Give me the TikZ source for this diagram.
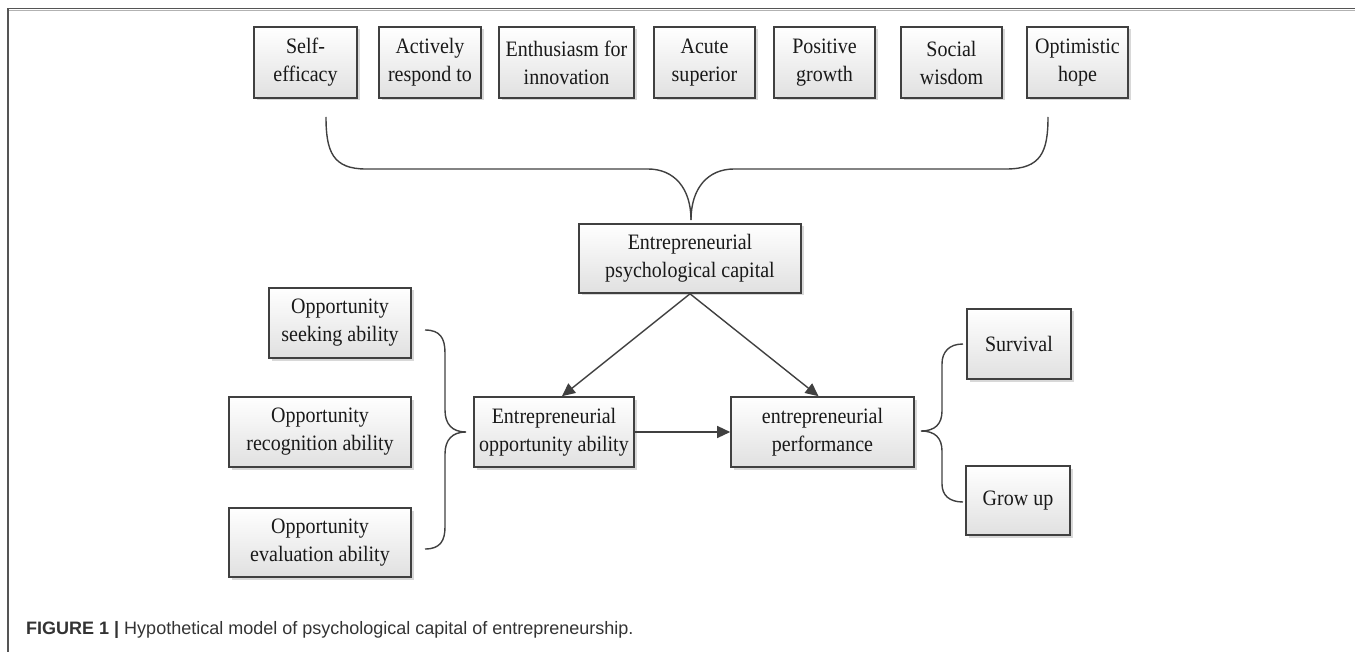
\documentclass[tikz,border=0pt]{standalone}
\usepackage{fontspec}
\setmainfont{Liberation Serif}[FakeStretch=0.91]
\newfontfamily\capfont{Liberation Sans}
\usetikzlibrary{arrows.meta,shadows,calc}
\definecolor{edge}{HTML}{404040}
\definecolor{framec}{HTML}{555555}
\tikzset{
  bx/.style={draw=edge, line width=1.6pt, top color=white, bottom color=black!12,
    drop shadow={shadow xshift=2.5pt, shadow yshift=-2.5pt, fill=black!30, opacity=0.5},
    inner sep=0pt, align=center, font=\fontsize{22}{28}\selectfont, text=black!90},
  conn/.style={draw=edge, line width=1.4pt},
  arr/.style={conn, -{Triangle[length=13pt,width=12pt]}},
}
\begin{document}
\begin{tikzpicture}[x=1pt,y=-1pt]
\useasboundingbox (0,0) rectangle (1355,652);
% frame
\draw[framec, line width=1.5pt] (8,652) -- (8,8.5) -- (1355,8.5);
\draw[black!30, line width=0.8pt] (9,10.4) -- (1355,10.4);
% top boxes
\node[bx, minimum width=103pt, minimum height=71pt] (self) at (305.5,62.5) {Self-\\efficacy};
\node[bx, minimum width=102pt, minimum height=71pt] (act) at (430,62.5) {Actively\\respond to};
\node[bx, minimum width=135pt, minimum height=71pt] (ent) at (566.5,62.5) {Enthusiasm for\\innovation};
\node[bx, minimum width=101pt, minimum height=71pt] (acu) at (704.5,62.5) {Acute\\superior};
\node[bx, minimum width=101pt, minimum height=71pt] (pos) at (824.5,62.5) {Positive\\growth};
\node[bx, minimum width=101pt, minimum height=71pt] (soc) at (951.5,62.5) {Social\\wisdom};
\node[bx, minimum width=101pt, minimum height=71pt] (opt) at (1077.5,62.5) {Optimistic\\hope};
% middle
\node[bx, minimum width=222pt, minimum height=69pt] (psy) at (690,258.5) {Entrepreneurial\\psychological capital};
\node[bx, minimum width=142pt, minimum height=70pt] (seek) at (340,323) {Opportunity\\seeking ability};
\node[bx, minimum width=182pt, minimum height=70pt] (rec) at (320,432) {Opportunity\\recognition ability};
\node[bx, minimum width=182pt, minimum height=69pt] (eva) at (320,542.5) {Opportunity\\evaluation ability};
\node[bx, minimum width=160pt, minimum height=70pt] (opp) at (554,432) {Entrepreneurial\\opportunity ability};
\node[bx, minimum width=183pt, minimum height=70pt] (perf) at (822.5,432) {entrepreneurial\\performance};
\node[bx, minimum width=104pt, minimum height=70pt] (surv) at (1019,344) {Survival};
\node[bx, minimum width=104pt, minimum height=69pt] (grow) at (1018,500.5) {Grow up};
% top brace
\coordinate (tbL) at (326,117);
\coordinate (tbR) at (1048,117);
\coordinate (tbT) at (691,220);
\draw[conn] (tbL) .. controls (326,152) and (333,169) .. (366,169) -- (648,169)
  .. controls (674,169) and (691,188) .. (tbT);
\draw[conn] (tbT) .. controls (691,188) and (708,169) .. (734,169) -- (1006,169)
  .. controls (1041,169) and (1048,152) .. (tbR);
% left brace
\coordinate (lbT) at (425,330);
\coordinate (lbB) at (425,549);
\coordinate (lbM) at (466,432);
\draw[conn] (lbT) .. controls (440,330) and (445,338) .. (445,353) -- (445,410)
  .. controls (445,424) and (452,432) .. (lbM)
  .. controls (452,432) and (445,440) .. (445,454) -- (445,527)
  .. controls (445,541) and (440,549) .. (lbB);
% right brace
\coordinate (rbT) at (963,344);
\coordinate (rbB) at (963,502);
\coordinate (rbM) at (921,431);
\draw[conn] (rbT) .. controls (949,344) and (942,352) .. (942,364) -- (942,411)
  .. controls (942,424) and (935,431) .. (rbM)
  .. controls (935,431) and (942,438) .. (942,451) -- (942,484)
  .. controls (942,495) and (949,502) .. (rbB);
% arrows
\draw[arr] (psy.south) -- ($(opp.north)+(8,0)$);
\draw[arr] (psy.south) -- ($(perf.north)+(-4,0)$);
\draw[arr] (opp.east) -- (perf.west);
% caption
\node[anchor=base west, inner sep=0pt, text=black!80, font=\capfont\fontsize{18}{20}\selectfont] (cap) at (26,634)
  {\textbf{FIGURE 1} \textbf{|} Hypothetical model of psychological capital of entrepreneurship.};
\end{tikzpicture}
\end{document}
